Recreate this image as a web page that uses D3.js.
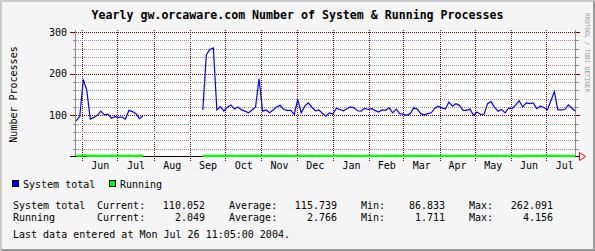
<!DOCTYPE html>
<html>
<head>
<meta charset="utf-8">
<script src="https://cdn.jsdelivr.net/npm/d3@7"></script>
<style>
  body { margin: 0; background: #f5f5f5; }
  svg text { font-family: "DejaVu Sans Mono", monospace; }
</style>
</head>
<body>
<svg id="chart"></svg>
<script>
// Data: one consolidated sample every 3 days, starting 2003-05-27
var sampleStart = Date.UTC(2003, 4, 27);
var sampleStepDays = 3;

var systemTotal = [
  87, 97, 186, 160, 91, 95, 100, 110, 101, 103,
  93, 97, 95, 96, 91, 112, 109, 104, 92, 99,
  null, null, null, null, null, null, null, null, null, null,
  null, null, null, null, null, null,
  113, 245, 258, 262, 113, 121, 110, 120, 125, 115,
  120, 113, 110, 106, 113, 120, 188, 110, 113, 106,
  113, 120, 124, 114, 112, 112, 102, 138, 106, 122,
  130, 120, 111, 113, 105, 98, 106, 103, 117, 114,
  111, 116, 120, 118, 111, 110, 117, 114, 116, 112,
  108, 113, 112, 118, 106, 115, 104, 103, 100, 104,
  118, 115, 104, 101, 104, 106, 117, 122, 118, 115,
  132, 122, 128, 124, 112, 112, 115, 100, 108, 102,
  103, 128, 133, 119, 110, 114, 106, 118, 116, 125,
  135, 120, 130, 128, 130, 116, 122, 119, 113, 135,
  157, 113, 113, 114, 125, 117, 110
];

var running = [
  3.1, 2.9, 4.2, 3.4, 2.8, 2.6, 3.0, 2.7, 2.9, 2.5,
  3.2, 2.8, 2.6, 3.0, 2.7, 3.1, 2.9, 2.4, 3.3, 2.6,
  null, null, null, null, null, null, null, null, null, null,
  null, null, null, null, null, null,
  2.5, 2.8, 3.0, 2.9, 2.6, 2.7, 3.1, 2.5, 2.8, 2.4,
  2.9, 2.6, 2.7, 3.0, 2.5, 2.8, 3.2, 2.6, 2.4, 2.7,
  2.9, 2.5, 2.8, 3.0, 2.6, 2.3, 2.7, 2.9, 2.5, 2.8,
  2.6, 3.1, 2.4, 2.7, 2.9, 2.5, 2.6, 2.8, 3.0, 2.4,
  2.7, 2.5, 2.9, 2.6, 2.8, 2.3, 2.7, 3.0, 2.5, 2.6,
  2.9, 2.4, 2.8, 2.6, 2.7, 3.1, 2.5, 2.8, 2.4, 2.6,
  2.9, 2.7, 2.5, 3.0, 2.6, 2.8, 2.4, 2.7, 2.5, 2.9,
  2.6, 2.3, 2.8, 2.7, 3.0, 2.5, 2.6, 2.9, 2.4, 2.7,
  2.8, 2.5, 3.1, 2.6, 2.7, 2.4, 2.9, 2.5, 2.8, 2.6,
  1.7, 2.7, 2.5, 2.9, 2.6, 2.8, 2.4, 3.0, 2.6, 2.7,
  2.5, 2.8, 2.6, 2.9, 2.4, 2.3, 2.05
];

var yLabelTicks = [0, 100, 200, 300];
var yMinorStep = 20;
var seriesNames = ["System total", "Running"];
var statCurrent = ["110.052", "2.049"];
var statAverage = ["115.739", "2.766"];
var statMin = ["86.833", "1.711"];
var statMax = ["262.091", "4.156"];

var title = "Yearly gw.orcaware.com Number of System & Running Processes";
var yTitle = "Number Processes";
var footer = "Last data entered at Mon Jul 26 11:05:00 2004.";
var watermark = "RRDTOOL / TOBI OETIKER";

// Layout
var W = 595, H = 251;
var plot = { left: 76, right: 576, top: 32, bottom: 157 };
var blue = "#0000ff", green = "#00ff00",
  majorColor = "#800000", minorColor = "#8c8c8c";

var x = d3.scaleUtc()
  .domain([new Date(Date.UTC(2003, 4, 26, 19)), new Date(Date.UTC(2004, 6, 26, 11, 5))])
  .range([plot.left, plot.right]);
var y = d3.scaleLinear().domain([0, 300]).range([plot.bottom, plot.top]);

function sampleDate(i) {
  return new Date(sampleStart + i * sampleStepDays * 864e5);
}
var sysData = systemTotal.map((v, i) => ({ t: sampleDate(i), v: v }));
var runData = running.map((v, i) => ({ t: sampleDate(i), v: v }));

var svg = d3.select("#chart").attr("width", W).attr("height", H);

// Background and 3D frame
svg.append("rect").attr("width", W).attr("height", H).attr("fill", "#f5f5f5");
svg.append("polygon")
  .attr("points", "0,0 595,0 593,2 2,2 2,249 0,251")
  .attr("fill", "#cbcbcb");
svg.append("polygon")
  .attr("points", "595,0 595,251 0,251 2,249 593,249 593,2")
  .attr("fill", "#999999");

// Canvas
svg.append("rect")
  .attr("x", plot.left).attr("y", plot.top - 1)
  .attr("width", plot.right - plot.left).attr("height", plot.bottom - plot.top + 1)
  .attr("fill", "#fff");

var crisp = v => Math.round(v) + 0.5;

// Major horizontal grid
var majorValues = yLabelTicks.filter(v => v > 0);
svg.selectAll("line.major")
  .data(majorValues)
  .join("line")
  .attr("class", "major")
  .attr("x1", plot.left - 6).attr("x2", plot.right + 4)
  .attr("y1", d => crisp(y(d))).attr("y2", d => crisp(y(d)))
  .style("stroke", majorColor).style("stroke-dasharray", "1,1");
svg.selectAll("path.majortick")
  .data(majorValues)
  .join("path")
  .attr("class", "majortick")
  .attr("d", d => `M${plot.left - 6},${crisp(y(d))}H${plot.left}M${plot.right},${crisp(y(d))}H${plot.right + 4}`)
  .style("stroke", majorColor).style("fill", "none");

// Month grid lines
var months = d3.utcMonth.range(x.domain()[0], x.domain()[1]);
svg.selectAll("line.month")
  .data(months)
  .join("line")
  .attr("class", "month")
  .attr("x1", d => crisp(x(d))).attr("x2", d => crisp(x(d)))
  .attr("y1", plot.top - 2).attr("y2", plot.bottom + 4)
  .style("stroke", majorColor).style("stroke-dasharray", "1,1");

// Minor horizontal grid (dotted gray) with small ticks on both sides
var minorValues = d3.range(yMinorStep, 300, yMinorStep).filter(v => yLabelTicks.indexOf(v) < 0);
svg.selectAll("line.minor")
  .data(minorValues)
  .join("line")
  .attr("class", "minor")
  .attr("x1", plot.left).attr("x2", plot.right)
  .attr("y1", d => crisp(y(d))).attr("y2", d => crisp(y(d)))
  .style("stroke", minorColor).style("stroke-dasharray", "1,1");
svg.selectAll("line.minortick")
  .data(minorValues)
  .join("line")
  .attr("class", "minortick")
  .attr("x1", plot.left - 3).attr("x2", plot.left)
  .attr("y1", d => crisp(y(d))).attr("y2", d => crisp(y(d)))
  .style("stroke", minorColor);
svg.selectAll("line.minortickr")
  .data(minorValues)
  .join("line")
  .attr("class", "minortickr")
  .attr("x1", plot.right).attr("x2", plot.right + 3)
  .attr("y1", d => crisp(y(d))).attr("y2", d => crisp(y(d)))
  .style("stroke", minorColor);

// Left / right frame lines of the plot
svg.append("line")
  .attr("x1", plot.left - 0.5).attr("x2", plot.left - 0.5)
  .attr("y1", plot.top - 2).attr("y2", plot.bottom)
  .style("stroke", minorColor);
svg.append("line")
  .attr("x1", plot.right - 0.5).attr("x2", plot.right - 0.5)
  .attr("y1", plot.top - 2).attr("y2", plot.bottom)
  .style("stroke", minorColor);

// X axis base line + arrow
svg.append("line")
  .attr("x1", plot.left - 6).attr("x2", plot.right + 4)
  .attr("y1", crisp(y(0)) - 1).attr("y2", crisp(y(0)) - 1)
  .style("stroke", "#000");
svg.append("polygon")
  .attr("points", [[plot.right + 3.5, y(0) - 4.5], [plot.right + 9.5, y(0) - 0.5], [plot.right + 3.5, y(0) + 3.5]].join(" "))
  .attr("fill", "none").attr("stroke", "#ff0000");

// Data lines
var line = d3.line()
  .defined(d => d.v != null)
  .x(d => x(d.t))
  .y(d => y(d.v));

svg.append("path").datum(sysData)
  .attr("d", line)
  .attr("fill", "none").attr("stroke", blue).attr("stroke-width", 1.2);
svg.append("path").datum(runData)
  .attr("d", line)
  .attr("fill", "none").attr("stroke", green).attr("stroke-width", 2.2);

// Y axis labels
var yAxis = svg.append("g")
  .attr("transform", `translate(${plot.left},0)`)
  .call(d3.axisLeft(y).tickValues(majorValues).tickSize(0).tickPadding(9));
yAxis.select(".domain").remove();
yAxis.selectAll("text")
  .attr("font-family", '"DejaVu Sans Mono", monospace')
  .attr("font-size", 10).attr("fill", "#000");

// Month labels centred in each month
var monthMids = d3.utcMonth.range(d3.utcMonth.floor(x.domain()[0]), x.domain()[1])
  .map(m => new Date((+m + +d3.utcMonth.offset(m, 1)) / 2))
  .filter(d => d >= x.domain()[0] && d <= x.domain()[1]);
var xAxis = svg.append("g")
  .attr("transform", `translate(0,${plot.bottom})`)
  .call(d3.axisBottom(x).tickValues(monthMids).tickFormat(d3.utcFormat("%b")).tickSize(0).tickPadding(5));
xAxis.select(".domain").remove();
xAxis.selectAll("text")
  .attr("font-family", '"DejaVu Sans Mono", monospace')
  .attr("font-size", 10).attr("fill", "#000");

// Titles
svg.append("text")
  .attr("x", W / 2).attr("y", 19)
  .attr("text-anchor", "middle")
  .attr("font-size", 11.6).attr("font-weight", "bold")
  .text(title);

svg.append("text")
  .attr("transform", `translate(17,${(plot.top + plot.bottom) / 2}) rotate(-90)`)
  .attr("text-anchor", "middle")
  .attr("font-size", 10)
  .text(yTitle);

svg.append("text")
  .attr("transform", "translate(585,13) rotate(90)")
  .attr("font-size", 6.5)
  .attr("fill", "#9a9a9a")
  .attr("textLength", 79).attr("lengthAdjust", "spacingAndGlyphs")
  .text(watermark);

// Legend
var legendX = [13, 110];
var colors = [blue, green];
seriesNames.forEach(function(name, i) {
  svg.append("rect")
    .attr("x", legendX[i] - 0.5).attr("y", 180.5)
    .attr("width", 6).attr("height", 6)
    .attr("fill", colors[i]).attr("stroke", "#000");
  svg.append("text")
    .attr("x", legendX[i] + 10).attr("y", 187.5)
    .attr("font-size", 10)
    .text(name);
});

// Statistics rows
var rowY = [208.5, 220.5];
seriesNames.forEach(function(name, i) {
  var row = svg.append("g").attr("font-size", 10);
  row.append("text").attr("x", 13).attr("y", rowY[i]).text(name);
  row.append("text").attr("x", 97).attr("y", rowY[i]).text("Current:");
  row.append("text").attr("x", 205).attr("y", rowY[i]).attr("text-anchor", "end").text(statCurrent[i]);
  row.append("text").attr("x", 229).attr("y", rowY[i]).text("Average:");
  row.append("text").attr("x", 337).attr("y", rowY[i]).attr("text-anchor", "end").text(statAverage[i]);
  row.append("text").attr("x", 361).attr("y", rowY[i]).text("Min:");
  row.append("text").attr("x", 445).attr("y", rowY[i]).attr("text-anchor", "end").text(statMin[i]);
  row.append("text").attr("x", 469).attr("y", rowY[i]).text("Max:");
  row.append("text").attr("x", 553).attr("y", rowY[i]).attr("text-anchor", "end").text(statMax[i]);
});

svg.append("text")
  .attr("x", 13).attr("y", 238)
  .attr("font-size", 10)
  .text(footer);
</script>
</body>
</html>
